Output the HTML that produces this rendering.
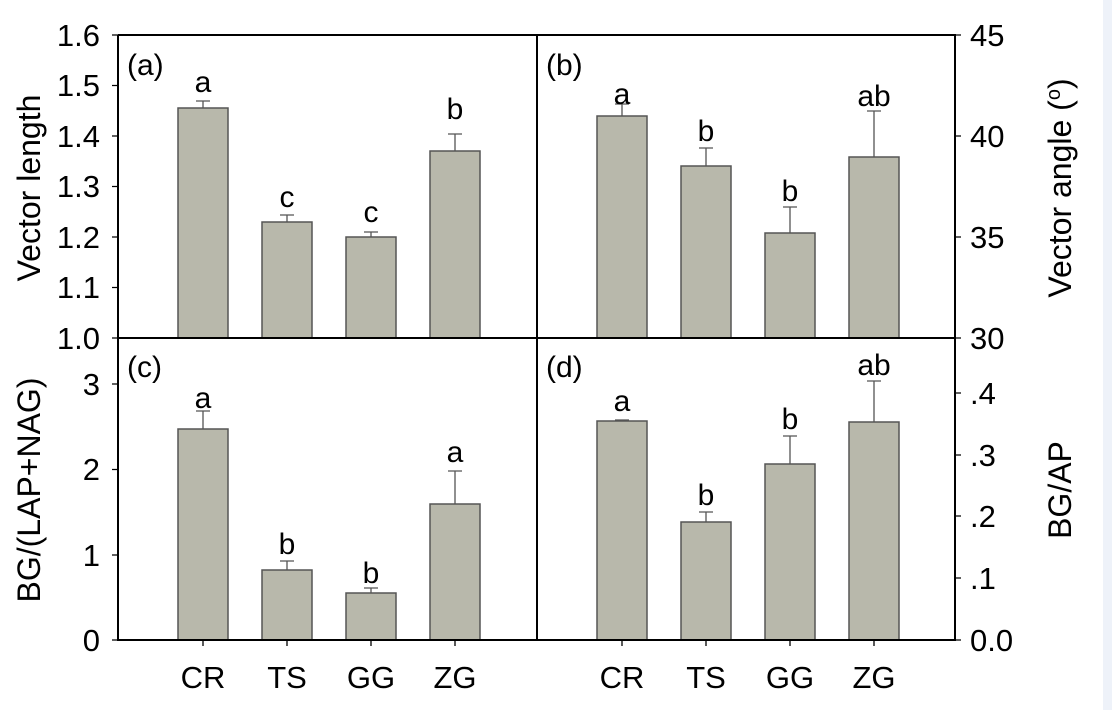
<!DOCTYPE html><html><head><style>body{margin:0;background:#fff}svg{display:block}text{font-family:"Liberation Sans",Arial,sans-serif;fill:#000}.t{font-size:30px}.l{font-size:31px}</style></head><body>
<svg width="1112" height="710" viewBox="0 0 1112 710">
<rect x="1103" y="0" width="9" height="710" fill="#eef2f9"/>
<g fill="#b8b8ab" stroke="#555" stroke-width="1.5">
<rect x="178" y="108" width="50" height="230"/><rect x="262" y="222" width="50" height="116"/><rect x="346" y="237" width="50" height="101"/><rect x="430" y="151" width="50" height="187"/>
<rect x="597" y="116" width="50" height="222"/><rect x="681" y="166" width="50" height="172"/><rect x="765" y="233" width="50" height="105"/><rect x="849" y="157" width="50" height="181"/>
<rect x="178" y="429" width="50" height="211"/><rect x="262" y="570" width="50" height="70"/><rect x="346" y="593" width="50" height="47"/><rect x="430" y="504" width="50" height="136"/>
<rect x="597" y="421" width="50" height="219"/><rect x="681" y="522" width="50" height="118"/><rect x="765" y="464" width="50" height="176"/><rect x="849" y="422" width="50" height="218"/>
</g>
<g stroke="#555" stroke-width="1.3" fill="none">
<path d="M203 108V101M196 101H210M287 222V215M280 215H294M371 237V232M364 232H378M455 151V134M448 134H462"/>
<path d="M622 116V104M615 104H629M706 166V148M699 148H713M790 233V207M783 207H797M874 157V111M867 111H881"/>
<path d="M203 429V411M196 411H210M287 570V561M280 561H294M371 593V588M364 588H378M455 504V471M448 471H462"/>
<path d="M622 421V420M615 420H629M706 522V512M699 512H713M790 464V436M783 436H797M874 422V381M867 381H881"/>
</g>
<g stroke="#000" stroke-width="2" fill="none">
<path d="M118 35V640H955V35H118M537 35V640M118 338H955"/>
</g>
<g stroke="#000" stroke-width="1.3">
<path d="M112 35H118M112 85.5H118M112 136H118M112 186.5H118M112 237H118M112 287.5H118M112 338H118"/>
<path d="M112 384H118M112 469.5H118M112 555H118M112 640H118"/>
<path d="M955 35H961M955 136H961M955 237H961M955 338H961"/>
<path d="M955 393H961M955 455H961M955 516H961M955 578H961M955 640H961"/>
<path d="M203 640V646M287 640V646M371 640V646M455 640V646M622 640V646M706 640V646M790 640V646M874 640V646"/>
</g>
<g class="l" text-anchor="end">
<text x="100" y="46">1.6</text><text x="100" y="96">1.5</text><text x="100" y="147">1.4</text><text x="100" y="197">1.3</text><text x="100" y="248">1.2</text><text x="100" y="298">1.1</text><text x="100" y="349">1.0</text>
<text x="100" y="395">3</text><text x="100" y="480">2</text><text x="100" y="566">1</text><text x="100" y="651">0</text>
</g>
<g class="l">
<text x="970" y="46">45</text><text x="970" y="147">40</text><text x="970" y="248">35</text><text x="970" y="349">30</text>
<text x="970" y="404">.4</text><text x="970" y="466">.3</text><text x="970" y="527">.2</text><text x="970" y="589">.1</text><text x="970" y="651">0.0</text>
</g>
<g class="l" text-anchor="middle">
<text x="203" y="688">CR</text><text x="287" y="688">TS</text><text x="371" y="688">GG</text><text x="455" y="688">ZG</text>
<text x="622" y="688">CR</text><text x="706" y="688">TS</text><text x="790" y="688">GG</text><text x="874" y="688">ZG</text>
</g>
<g class="t" text-anchor="middle">
<text x="203" y="92">a</text><text x="287" y="207">c</text><text x="371" y="222">c</text><text x="455" y="119">b</text>
<text x="622" y="104">a</text><text x="706" y="141">b</text><text x="790" y="201">b</text><text x="874" y="106">ab</text>
<text x="203" y="408">a</text><text x="287" y="554">b</text><text x="371" y="583">b</text><text x="455" y="462">a</text>
<text x="622" y="411">a</text><text x="706" y="505">b</text><text x="790" y="429">b</text><text x="874" y="375">ab</text>
</g>
<g class="t">
<text x="127" y="75">(a)</text><text x="546" y="75">(b)</text><text x="127" y="377">(c)</text><text x="546" y="377">(d)</text>
</g>
<g style="font-size:32px" text-anchor="middle">
<text transform="translate(40,188) rotate(-90)">Vector length</text>
<text transform="translate(40,490) rotate(-90)">BG/(LAP+NAG)</text>
<text transform="translate(1071,188) rotate(-90)">Vector angle (<tspan style="font-size:20px" dy="-11">o</tspan><tspan dy="11">)</tspan></text>
<text transform="translate(1071,490) rotate(-90)">BG/AP</text>
</g>
</svg></body></html>
